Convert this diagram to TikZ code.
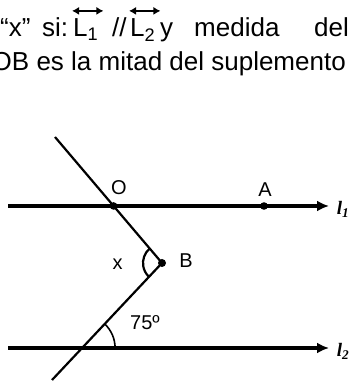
\documentclass[tikz,border=0pt]{standalone}
\usepackage{fontspec}
\setmainfont{Liberation Sans}
\newfontfamily\lfont{Liberation Serif}
\usetikzlibrary{arrows.meta}

\begin{document}
\begin{tikzpicture}[x=1pt,y=1pt,
	txt/.style={anchor=base west, inner sep=0pt, font=\fontsize{26}{31}\selectfont},
	lbl/.style={inner sep=0pt, font=\fontsize{20}{24}\selectfont},
	rlbl/.style={inner sep=0pt, font=\fontsize{19}{22}\lfont\bfseries\itshape},
	paral/.style={line width=4.5pt, -{Latex[length=12pt,width=11pt]}},
	secante/.style={line width=2.2pt},
	dblarr/.style={line width=2pt, {Latex[length=7pt,width=8pt]}-{Latex[length=7pt,width=8pt]}}]
	\useasboundingbox (0,0) rectangle (351,385);
	\clip (0,0) rectangle (351,385);
	% enunciado
	\node[txt] (q) at (0,348) {“x”};
	\node[txt] (si) at (42,348) {si:};
	\node[txt] (L1) at (73,348) {L\textsubscript{1}};
	\node[txt] (par) at (112,348) {//};
	\node[txt] (L2) at (130,348) {L\textsubscript{2}};
	\node[txt] (y) at (160,348) {y};
	\node[txt] (med) at (194,348) {medida};
	\node[txt, anchor=base east] (del) at (349,348) {del};
	\node[txt, anchor=base east] (lin2) at (346,314) {OB es la mitad del suplemento};
	\draw[dblarr] ([xshift=-1pt,yshift=8pt]L1.north west) -- ([xshift=5pt,yshift=8pt]L1.north east);
	\draw[dblarr] ([xshift=-1pt,yshift=8pt]L2.north west) -- ([xshift=5pt,yshift=8pt]L2.north east);
	% rectas
	\coordinate (l1w) at (8,179);
	\coordinate (l1e) at (329,179);
	\coordinate (l2w) at (8,37);
	\coordinate (l2e) at (329,37);
	\coordinate (s) at (55,248);
	\coordinate (B) at (162,122);
	\coordinate (e) at (52,5);
	\coordinate (A) at (264,179);
	\coordinate (O) at (intersection of s--B and l1w--l1e);
	\coordinate (P) at (intersection of B--e and l2w--l2e);
	\draw[paral] (l1w) -- (l1e);
	\draw[paral] (l2w) -- (l2e);
	\draw[secante] (s) -- (B) -- (e);
	\fill (O) circle (3.8);
	\fill (A) circle (3.8);
	\fill (B) circle (4);
	% angulos
	\draw[line width=2.2pt] ([shift=(130.3:19)]B) arc (130.3:226.8:19);
	\draw[line width=1.6pt] ([shift=(0:33)]P) arc (0:46.8:33);
	% etiquetas
	\node[lbl] (nO) at (119,197) {O};
	\node[lbl] (nA) at (265,195) {A};
	\node[lbl] (nB) at (186,124) {B};
	\node[lbl] (nx) at (117.5,121) {x};
	\node[lbl] (n75) at (145,62) {75º};
	\node[rlbl] (nl1) at (343,176) {l\textsubscript{1}};
	\node[rlbl] (nl2) at (343,34) {l\textsubscript{2}};
\end{tikzpicture}
\end{document}
